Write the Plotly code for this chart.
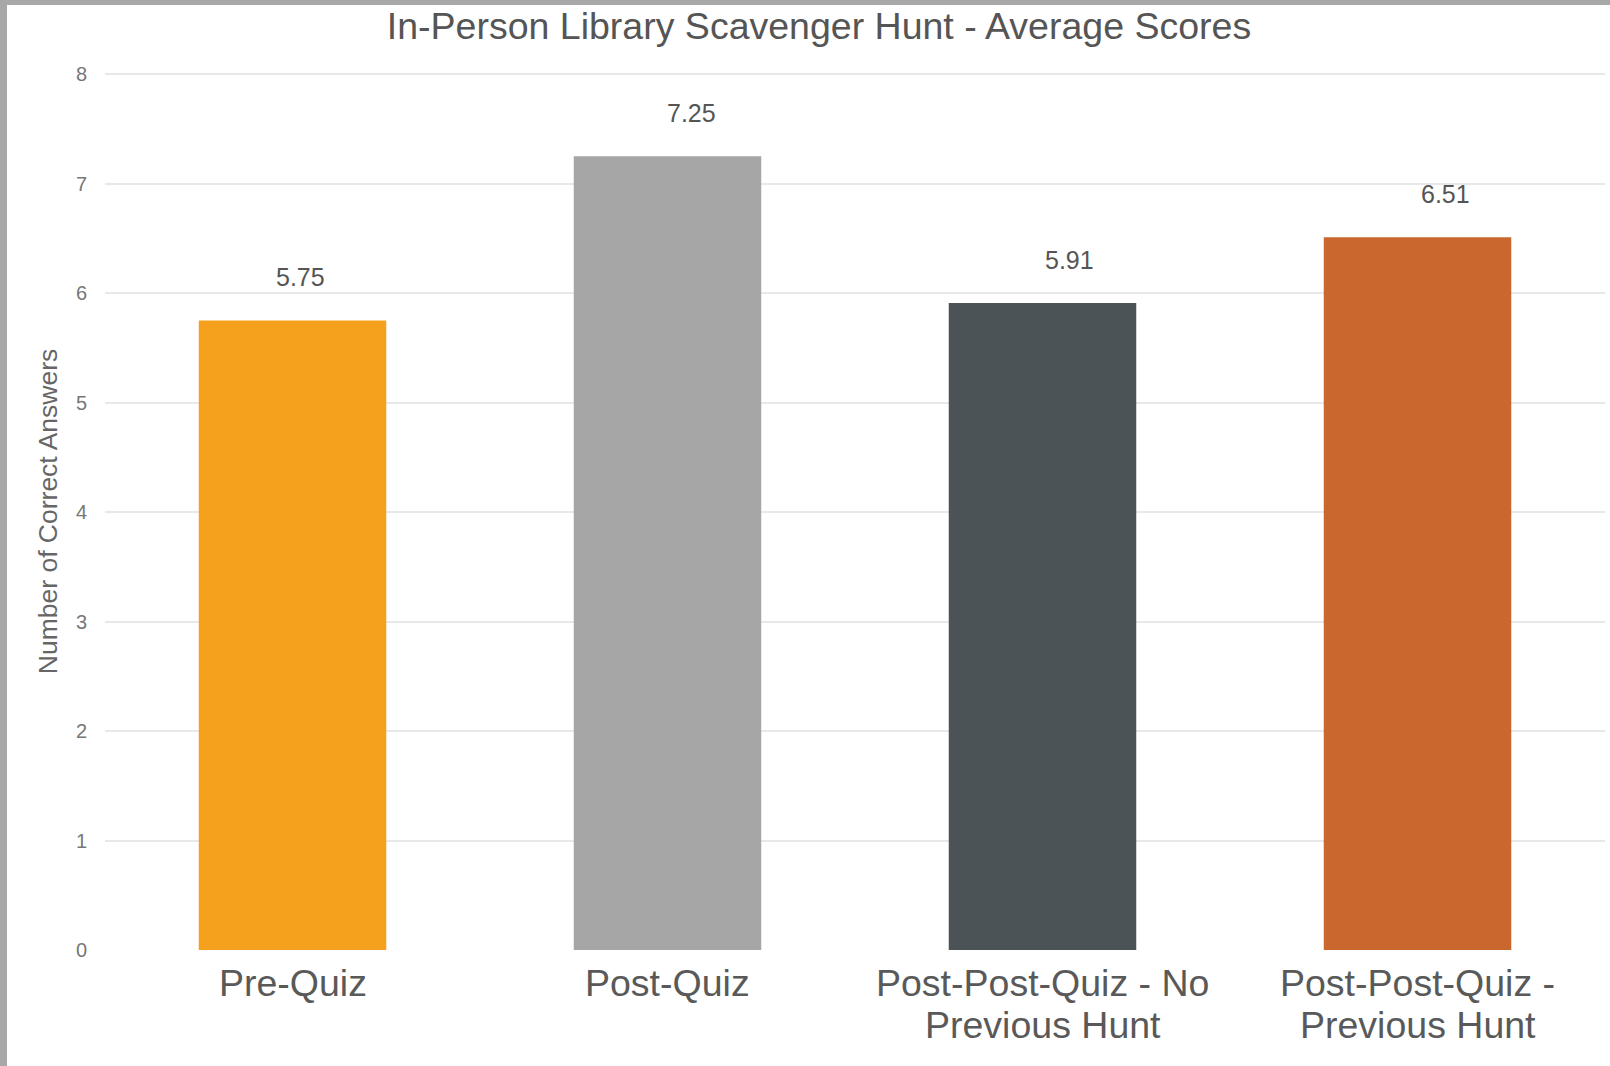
import plotly.graph_objects as go

categories = ["Pre-Quiz", "Post-Quiz", "Post-Post-Quiz - No<br>Previous Hunt", "Post-Post-Quiz -<br>Previous Hunt"]
scores = [5.75, 7.25, 5.91, 6.51]
value_labels = ["5.75", "7.25", "5.91", "6.51"]
y_ticks = [0, 1, 2, 3, 4, 5, 6, 7, 8]

bar_colors = ["#F5A11E", "#A6A6A6", "#4B5356", "#C9672F"]
label_xshift = [8, 24, 27, 28]

FONT = "Liberation Sans, Arial, sans-serif"

fig = go.Figure()
fig.add_trace(go.Bar(
    x=categories, y=scores,
    marker=dict(color=bar_colors, line=dict(width=0)),
    hoverinfo="y",
))

for c, v, t, dx in zip(categories, scores, value_labels, label_xshift):
    fig.add_annotation(x=c, y=v, text=t, showarrow=False, yshift=43, xshift=dx,
                       font=dict(family=FONT, size=25, color="#555555"))

# category labels with tighter line spacing than plotly's tick labels
line_shifts = [-33, -75]
for c in categories:
    for i, part in enumerate(c.split("<br>")):
        fig.add_annotation(x=c, xref="x", y=0, yref="paper", yanchor="middle",
                           text=part, showarrow=False, yshift=line_shifts[i],
                           font=dict(family=FONT, size=37.5, color="#595959"))

W, H = 1610, 1066
ml, mr, mt, mb = 105, 5, 73, 116
pw, ph = W - ml - mr, H - mt - mb

# screenshot frame (gray edge on left and top)
fig.add_shape(type="rect", xref="paper", yref="paper",
              x0=-ml / pw, x1=(7 - ml) / pw, y0=-mb / ph, y1=1 + mt / ph,
              fillcolor="#A8A8A8", line=dict(width=0), layer="above")
fig.add_shape(type="rect", xref="paper", yref="paper",
              x0=-ml / pw, x1=1 + mr / pw, y0=1 + (mt - 5) / ph, y1=1 + mt / ph,
              fillcolor="#A8A8A8", line=dict(width=0), layer="above")

fig.update_layout(
    width=W, height=H,
    margin=dict(l=ml, r=mr, t=mt, b=mb, autoexpand=False),
    paper_bgcolor="white", plot_bgcolor="white",
    bargap=0.5,
    showlegend=False,
    font=dict(family=FONT, color="#555555"),
    title=dict(text="In-Person Library Scavenger Hunt - Average Scores",
               x=819 / W, xanchor="center", xref="container",
               y=1 - 26 / H, yanchor="middle", yref="container",
               font=dict(family=FONT, size=37.5, color="#555555")),
    xaxis=dict(showgrid=False, showline=False, zeroline=False, ticks="",
               showticklabels=False, automargin=False),
    yaxis=dict(range=[0, 8.01], tickvals=y_ticks, showgrid=True, gridcolor="#E8E8E8",
               gridwidth=2, zeroline=True, zerolinecolor="white", zerolinewidth=2,
               showline=False, ticks="",
               tickfont=dict(family=FONT, size=20, color="#777777"),
               ticklabelstandoff=17, automargin=False,
               title=dict(text="Number of Correct Answers", standoff=10,
                          font=dict(family=FONT, size=26.5, color="#666666"))),
)

fig.write_html("out.html", config={"displayModeBar": False},
               post_script="document.body.style.margin='0';document.body.style.overflow='hidden';")
